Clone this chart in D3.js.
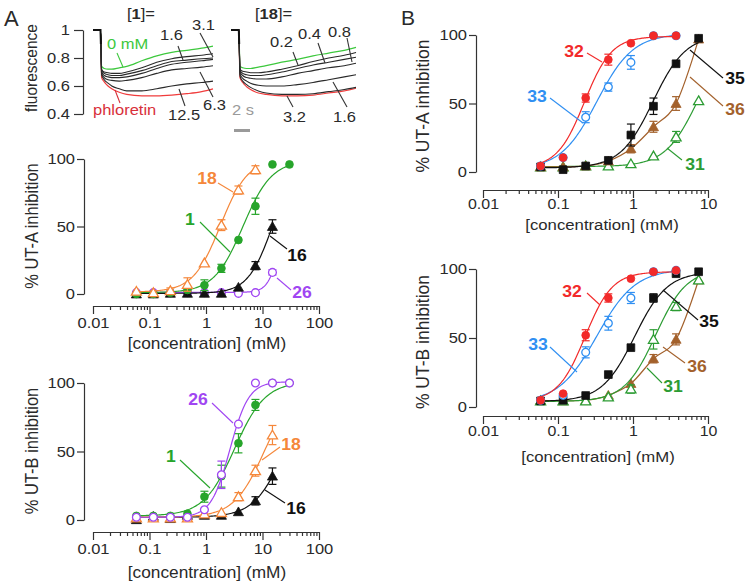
<!DOCTYPE html>
<html><head><meta charset="utf-8">
<script src="https://cdn.jsdelivr.net/npm/d3@7"></script>
<style>
body{margin:0;background:#fff}
svg{display:block}
text{font-family:"Liberation Sans", Arial, Helvetica, sans-serif}
</style>
</head><body>
<svg id="c" width="750" height="588"></svg>
<script>
// ---------------- DATA ----------------
// stopped-flow traces (time in s, relative fluorescence)
const traceT = [0, 1.0, 1.15, 1.5, 2, 2.5, 3.5, 4.5, 6.5, 8.5, 10.5, 12.5, 14.5, 16];
const traceL_0     = [1,1,0.74,0.725,0.72,0.72,0.73,0.74,0.78,0.815,0.84,0.855,0.87,0.885];
const traceL_a     = [1,1,0.72,0.70,0.695,0.69,0.69,0.70,0.73,0.77,0.795,0.81,0.82,0.83];
const traceL_b     = [1,1,0.71,0.69,0.68,0.675,0.675,0.685,0.71,0.745,0.775,0.785,0.795,0.80];
const traceL_c     = [1,1,0.70,0.675,0.665,0.66,0.66,0.665,0.69,0.725,0.755,0.77,0.78,0.79];
const traceL_d     = [1,1,0.69,0.66,0.645,0.64,0.635,0.64,0.66,0.69,0.715,0.725,0.735,0.745];
const traceL_e     = [1,1,0.68,0.645,0.62,0.60,0.58,0.565,0.565,0.58,0.60,0.615,0.625,0.635];
const traceL_phl   = [1,1,0.66,0.63,0.60,0.58,0.555,0.54,0.53,0.53,0.535,0.545,0.56,0.58];
const traceR_0     = [1,1,0.74,0.73,0.725,0.725,0.735,0.745,0.77,0.79,0.815,0.835,0.855,0.876];
const traceR_a     = [1,1,0.72,0.705,0.70,0.695,0.695,0.70,0.72,0.745,0.775,0.80,0.82,0.84];
const traceR_b     = [1,1,0.71,0.69,0.68,0.675,0.675,0.68,0.70,0.725,0.75,0.77,0.79,0.805];
const traceR_c     = [1,1,0.70,0.675,0.66,0.655,0.65,0.65,0.665,0.69,0.71,0.73,0.745,0.762];
const traceR_d     = [1,1,0.685,0.655,0.635,0.62,0.605,0.60,0.60,0.61,0.625,0.645,0.665,0.68];
const traceR_e     = [1,1,0.67,0.635,0.61,0.59,0.565,0.55,0.54,0.54,0.545,0.56,0.575,0.59];
const traceR_phl   = [1,1,0.66,0.625,0.595,0.575,0.55,0.54,0.53,0.53,0.535,0.55,0.565,0.584];
const traceTicks = [0.4, 0.6, 0.8, 1];

// concentrations (mM)
const concA = [0.0586, 0.117, 0.234, 0.469, 0.9375, 1.875, 3.75, 7.5, 15, 30];
const concB = [0.0586, 0.117, 0.234, 0.469, 0.9375, 1.875, 3.75, 7.5];

// Panel A, UT-A (% inhibition, SE)
const aA_1   = [0, 0, 1, 3, 6.5, 19, 40, 65, 96, 96];
const aA_1e  = [0, 0, 0, 0, 4, 3, 0, 6, 0, 0];
const aA_18  = [2, 1, 2.5, 7, 23, 51, 77, 92];
const aA_18e = [0, 0, 2, 5, 0, 4, 3, 3];
const aA_16  = [0, 0, 0.5, 0.5, 0.5, 0.5, 5, 21, 50];
const aA_16e = [0, 0, 0, 0, 0, 0, 0, 3, 5];
const aA_26  = [1, 1, 1, 1, 1, 1, 0.5, 1, 16];
const aA_26e = [0, 0, 0, 0, 0, 0, 0, 0, 2];
// Panel A, UT-B
const aB_1   = [3, 3, 3, 4.6, 17, 32, 56, 84, 100, 100];
const aB_1e  = [0, 0, 0, 0, 4, 8, 7, 4, 0, 0];
const aB_26  = [2, 2, 2, 2, 7.5, 33, 70, 100, 100, 100];
const aB_26e = [0, 0, 0, 0, 0, 10, 0, 0, 0, 0];
const aB_18  = [1.5, 1.5, 1.5, 1.5, 4.4, 5.4, 17, 36, 62];
const aB_18e = [0, 0, 0, 0, 0, 0, 3, 4, 7];
const aB_16  = [0.2, 2.7, 1, 3.4, 3.4, 3.4, 6, 14, 32];
const aB_16e = [0, 0, 0, 0, 0, 0, 0, 3, 6];
// Panel B, UT-A
const bA_32  = [4.4, 10.5, 54, 82, 94, 99.5, 99.5];
const bA_32e = [0, 0, 3, 4, 0, 0, 0];
const bA_33  = [4.4, 10.5, 40, 62, 80, 99.5, 99.5];
const bA_33e = [0, 0, 4, 3, 5, 0, 0];
const bA_35  = [3.7, 1.7, 4.4, 8.5, 27, 48, 79, 97.6];
const bA_35e = [0, 0, 0, 0, 8, 6, 0, 0];
const bA_36  = [3.7, 3.7, 4.4, 8, 17, 33, 50, 97];
const bA_36e = [0, 0, 0, 0, 3, 4, 5, 0];
const bA_31  = [3.7, 3.7, 4.4, 4.4, 6, 11.7, 25.6, 52];
const bA_31e = [0, 0, 0, 0, 0, 0, 4, 0];
// Panel B, UT-B
const bB_32  = [4.9, 9.7, 52, 79, 93, 98, 99];
const bB_32e = [0, 0, 4, 3, 0, 0, 0];
const bB_33  = [4.9, 8.5, 39.6, 60.7, 79, 98, 99];
const bB_33e = [0, 0, 4, 5, 4, 0, 0];
const bB_35  = [4.4, 4.9, 8.3, 23.5, 43, 79, 96.6, 98];
const bB_35e = [0, 0, 0, 0, 0, 3, 0, 0];
const bB_31  = [4.4, 4.4, 4.4, 7.3, 13, 49, 72.8, 92];
const bB_31e = [0, 0, 0, 0, 3, 7, 3, 0];
const bB_36  = [4.9, 4.4, 4.9, 8.5, 17, 35, 49, 92];
const bB_36e = [0, 0, 0, 0, 0, 3, 4, 0];

// fitted Hill parameters [bottom, top, IC50 (mM), n]; null -> smooth line through points
const fitA_1 = [1, 99, 4.5, 1.7],   fitA_18 = [1.5, 100, 1.8, 1.8], fitA_16 = [0.5, 100, 15, 2], fitA_26 = [1.2, 100, 23, 4];
const fitAB_1 = [3, 101, 3.2, 1.6], fitAB_26 = [2, 101, 2.65, 2.6], fitAB_18 = [2, 100, 11, 1.6], fitAB_16 = [2, 100, 25, 1.6];
const fitB_32 = [3, 99, 0.225, 2.4], fitB_33 = [2, 101, 0.33, 1.8], fitB_35 = [3, 100, 1.85, 2], fitB_31 = [4, 100, 7.3, 2];
const fitBB_32 = [4, 98, 0.23, 2.4], fitBB_33 = [3, 100, 0.33, 1.7], fitBB_35 = [4, 98, 1.05, 2], fitBB_31 = [4, 100, 2.0, 2.1];

const yTicks = [0, 50, 100];
const xTicksA = [0.01, 0.1, 1, 10, 100];
const xTicksB = [0.01, 0.1, 1, 10];

// ---------------- STYLE ----------------
const C = {
  green: "#27a52b", orange: "#f5873a", purple: "#a046f2", black: "#111111",
  red: "#f22a2a", blue: "#2f8ff2", brown: "#a3612c", green31: "#2c9c33",
  tgreen: "#3dc83d", tred: "#f03c3c", axis: "#333333", text: "#2a2a2a", gray: "#9a9a9a"
};
const FONT = '"Liberation Sans", Arial, sans-serif';
const SX = 1.1;

const svg = d3.select("#c");

function txt(g, x, y, s, o = {}) {
  const t = g.append("text")
    .attr("transform", `translate(${x},${y}) scale(${o.sx ?? SX},1)`)
    .attr("text-anchor", o.anchor || "start")
    .attr("font-size", o.size || 15)
    .attr("font-weight", o.weight || "normal")
    .attr("fill", o.fill || C.text);
  t.text(s);
  return t;
}
function vtxt(g, x, y, s, size) {
  g.append("text")
    .attr("transform", `translate(${x},${y}) rotate(-90) scale(1,${SX})`)
    .attr("text-anchor", "middle").attr("font-size", size).attr("fill", C.text).text(s);
}
function leader(g, x1, y1, x2, y2, col) {
  g.append("line").attr("x1", x1).attr("y1", y1).attr("x2", x2).attr("y2", y2)
    .attr("stroke", col).attr("stroke-width", 1.1);
}

// ---------------- TRACES ----------------
const ty = d3.scaleLinear().domain([0.4, 1]).range([114, 30]);
const txL = d3.scaleLinear().domain([0, 16]).range([93, 213]);
const txR = d3.scaleLinear().domain([0, 16]).range([231, 356]);

const gAx = svg.append("g").attr("transform", "translate(83,0)")
  .call(d3.axisLeft(ty).tickValues(traceTicks).tickSize(9).tickSizeOuter(0)
    .tickFormat(d => d === 1 ? "1" : d3.format(".1f")(d)));
gAx.selectAll("path,line").attr("stroke", C.axis).attr("stroke-width", 1.2);
gAx.selectAll("text").attr("font-size", 15).attr("font-family", FONT).attr("fill", C.text)
  .attr("x", -13 / SX).attr("transform", `scale(${SX},1)`);
vtxt(svg, 37, 68, "fluorescence", 15.5);

function drawTrace(xs, vals, col, w) {
  const line = d3.line().x((d, i) => xs(traceT[i])).y(d => ty(d)).curve(d3.curveMonotoneX);
  svg.append("path").datum(vals).attr("d", line).attr("fill", "none")
    .attr("stroke", col).attr("stroke-width", w || 1.2);
}
drawTrace(txL, traceL_0, C.tgreen);
drawTrace(txL, traceL_phl, C.tred);
[traceL_a, traceL_b, traceL_c, traceL_d, traceL_e].forEach(v => drawTrace(txL, v, "#2a2a2a", 1.1));
drawTrace(txR, traceR_0, C.tgreen);
drawTrace(txR, traceR_phl, C.tred);
[traceR_a, traceR_b, traceR_c, traceR_d, traceR_e].forEach(v => drawTrace(txR, v, "#2a2a2a", 1.1));
// starting baseline (thick black)
[[txL], [txR]].forEach(([xs]) => {
  svg.append("path").attr("d", d3.line()([[xs(0), ty(1)], [xs(1.0), ty(1)], [xs(1.05), ty(0.9)]]))
    .attr("fill", "none").attr("stroke", "#111").attr("stroke-width", 2);
});

// trace labels
const t1 = txt(svg, 127, 19, "", {size: 15});
t1.append("tspan").text("[");
t1.append("tspan").attr("font-weight", "bold").text("1");
t1.append("tspan").text("]=");
const t2 = txt(svg, 255, 19, "", {size: 15});
t2.append("tspan").text("[");
t2.append("tspan").attr("font-weight", "bold").text("18");
t2.append("tspan").text("]=");

const traceLabels = [
  ["0 mM", 107, 49, C.tgreen, 117, 53, 123, 67],
  ["1.6", 160, 40, C.text, 178, 46, 183, 60],
  ["3.1", 192, 30, C.text, 200, 33, 213, 57],
  ["6.3", 203, 110, C.text, 213, 97, 200, 72],
  ["12.5", 168, 120, C.text, 185, 106, 179, 89],
  ["phloretin", 93, 115, "#d8303a", 120, 103, 115, 90],
  ["0.2", 270, 47, C.text, 293, 52, 298, 65],
  ["0.4", 298, 39, C.text, 318, 43, 325, 63],
  ["0.8", 328, 37, C.text, 347, 38, 352, 62],
  ["3.2", 283, 122, C.text, 293, 107, 287, 96],
  ["1.6", 333, 122, C.text, 347, 107, 333, 82]
];
traceLabels.forEach(([s, x, y, col, x1, y1, x2, y2]) => {
  txt(svg, x, y, s, {size: 15, fill: col});
  leader(svg, x1, y1, x2, y2, col === C.text ? "#333" : col);
});
txt(svg, 232, 115, "2 s", {size: 15, fill: C.gray});
svg.append("rect").attr("x", 234).attr("y", 129).attr("width", 16).attr("height", 3).attr("fill", C.gray);

// panel letters
txt(svg, 4, 26, "A", {size: 22, sx: 1});
txt(svg, 401, 25, "B", {size: 21, sx: 1});

// ---------------- DOSE RESPONSE ----------------
function hill(p, c) { return p[0] + (p[1] - p[0]) / (1 + Math.pow(p[2] / c, p[3])); }

function panel(cfg) {
  const g = svg.append("g");
  const x = d3.scaleLog().domain(cfg.xDom).range(cfg.xRange);
  const y = d3.scaleLinear().domain([0, 100]).range(cfg.yRange);
  // y axis
  const ya = g.append("g").attr("transform", `translate(${cfg.yAxisX},0)`)
    .call(d3.axisLeft(y).tickValues(yTicks).tickSize(7).tickSizeOuter(0));
  ya.selectAll("text").attr("font-size", 15).attr("font-family", FONT).attr("fill", C.text)
    .attr("x", -9 / SX).attr("transform", `scale(${SX},1)`);
  // x axis with minor ticks
  const lo = Math.log10(cfg.xDom[0]), hi = Math.log10(cfg.xDom[1]);
  const all = [];
  for (let e = lo; e <= hi; e++) for (let m = 1; m <= 9; m++) { const v = m * Math.pow(10, e); if (v <= cfg.xDom[1] * 1.0001) all.push(v); }
  const xa = g.append("g").attr("transform", `translate(0,${cfg.xAxisY})`)
    .call(d3.axisBottom(x).tickValues(all).tickSize(4).tickSizeOuter(0)
      .tickFormat(d => cfg.xTicks.some(t => Math.abs(t - d) / t < 1e-6) ? String(d) : ""));
  xa.selectAll(".tick").filter(d => cfg.xTicks.some(t => Math.abs(t - d) / t < 1e-6))
    .select("line").attr("y2", 8);
  xa.selectAll("text").attr("font-size", cfg.tickSize || 15).attr("font-family", FONT).attr("fill", C.text)
    .attr("y", cfg.tickY || 11).attr("transform", `scale(${SX},1)`);
  g.selectAll(".domain, .tick line").attr("stroke", C.axis).attr("stroke-width", 1.2);
  // titles
  txt(g, cfg.xTitle[0], cfg.xTitle[1], "[concentration] (mM)", {size: cfg.xTitleSize || 16, anchor: "middle", sx: 1.08});
  vtxt(g, cfg.yTitle[0], cfg.yTitle[1], cfg.yTitle[2], cfg.yTitle[3]);

  // series
  cfg.series.forEach(s => {
    const pts = s.y.map((v, i) => ({c: s.x[i], v, e: s.e[i]}));
    let path;
    if (s.fit) {
      const l0 = Math.log10(s.x[0]), l1 = Math.log10(s.x[s.y.length - 1]);
      const samp = d3.range(0, 121).map(i => Math.pow(10, l0 + (l1 - l0) * i / 120));
      path = d3.line().x(c => x(c)).y(c => y(hill(s.fit, c)))(samp);
    } else {
      path = d3.line().x(d => x(d.c)).y(d => y(d.v)).curve(d3.curveMonotoneX)(pts);
    }
    g.append("path").attr("d", path).attr("fill", "none").attr("stroke", s.color).attr("stroke-width", 1.2);
    pts.filter(d => d.e > 0).forEach(d => {
      const px = x(d.c);
      g.append("line").attr("x1", px).attr("x2", px).attr("y1", y(d.v - d.e)).attr("y2", y(d.v + d.e))
        .attr("stroke", s.color).attr("stroke-width", 1.2);
      [d.v - d.e, d.v + d.e].forEach(v => g.append("line").attr("x1", px - 4).attr("x2", px + 4)
        .attr("y1", y(v)).attr("y2", y(v)).attr("stroke", s.color).attr("stroke-width", 1.2));
    });
    const type = {circle: d3.symbolCircle, triangle: d3.symbolTriangle, square: d3.symbolSquare}[s.shape];
    const size = {circle: 48, triangle: 44, square: 60}[s.shape];
    g.selectAll(null).data(pts).join("path")
      .attr("d", d3.symbol(type, size))
      .attr("transform", d => `translate(${x(d.c)},${y(d.v) + (s.shape === "triangle" ? 1 : 0)})`)
      .attr("fill", s.open ? "#fff" : s.color)
      .attr("stroke", s.color).attr("stroke-width", s.open ? 1.3 : 0.8);
  });
  cfg.labels.forEach(([s, col, tx, tyy, x1, y1, x2, y2]) => {
    txt(g, tx, tyy, s, {size: 16, weight: "bold", fill: col, anchor: "middle"});
    leader(g, x1, y1, x2, y2, col);
  });
}

// Panel A - UT-A
panel({
  xDom: [0.01, 100], xRange: [93, 319], yRange: [294, 159], yAxisX: 84, xAxisY: 306,
  xTicks: xTicksA, xTitle: [207, 349], yTitle: [38, 226, "% UT-A inhibition", 16.5],
  series: [
    {x: concA, y: aA_26, e: aA_26e, fit: fitA_26, color: C.purple, shape: "circle", open: true},
    {x: concA, y: aA_16, e: aA_16e, fit: fitA_16, color: C.black, shape: "triangle"},
    {x: concA, y: aA_1,  e: aA_1e,  fit: fitA_1,  color: C.green, shape: "circle"},
    {x: concA, y: aA_18, e: aA_18e, fit: fitA_18, color: C.orange, shape: "triangle", open: true}
  ],
  labels: [
    ["18", C.orange, 207, 184, 218, 183, 233, 192],
    ["1", C.green, 190, 225, 200, 222, 230, 252],
    ["16", C.black, 297, 261, 287, 249, 270, 236],
    ["26", C.purple, 302, 298, 291, 290, 277, 278]
  ]
});
// Panel A - UT-B
panel({
  xDom: [0.01, 100], xRange: [93, 319], yRange: [520, 383], yAxisX: 84, xAxisY: 532,
  xTicks: xTicksA, xTitle: [207, 578], yTitle: [38, 451, "% UT-B inhibition", 16.5],
  series: [
    {x: concA, y: aB_16, e: aB_16e, fit: fitAB_16, color: C.black, shape: "triangle"},
    {x: concA, y: aB_18, e: aB_18e, fit: fitAB_18, color: C.orange, shape: "triangle", open: true},
    {x: concA, y: aB_1,  e: aB_1e,  fit: fitAB_1,  color: C.green, shape: "circle"},
    {x: concA, y: aB_26, e: aB_26e, fit: fitAB_26, color: C.purple, shape: "circle", open: true}
  ],
  labels: [
    ["26", C.purple, 198, 405, 212, 403, 233, 423],
    ["1", C.green, 171, 462, 180, 460, 210, 488],
    ["18", C.orange, 291, 450, 280, 447, 262, 460],
    ["16", C.black, 296, 514, 285, 503, 265, 490]
  ]
});
// Panel B - UT-A
panel({
  xDom: [0.01, 10], xRange: [483, 708], yRange: [172, 35], yAxisX: 476, xAxisY: 190,
  xTicks: xTicksB, xTitle: [602, 230], xTitleSize: 15.5, tickY: 9, tickSize: 14.5,
  yTitle: [429, 106, "% UT-A inhibition", 17.5],
  series: [
    {x: concB, y: bA_31, e: bA_31e, fit: fitB_31, color: C.green31, shape: "triangle", open: true},
    {x: concB, y: bA_36, e: bA_36e, fit: null,    color: C.brown, shape: "triangle"},
    {x: concB, y: bA_35, e: bA_35e, fit: fitB_35, color: C.black, shape: "square"},
    {x: concB, y: bA_33, e: bA_33e, fit: fitB_33, color: C.blue, shape: "circle", open: true},
    {x: concB, y: bA_32, e: bA_32e, fit: fitB_32, color: C.red, shape: "circle"}
  ],
  labels: [
    ["32", C.red, 574, 57, 587, 53, 602, 62],
    ["33", C.blue, 537, 102, 550, 98, 583, 123],
    ["35", C.black, 735, 84, 723, 78, 690, 50],
    ["36", C.brown, 735, 115, 723, 106, 690, 77],
    ["31", C.green31, 695, 170, 682, 160, 667, 148]
  ]
});
// Panel B - UT-B
panel({
  xDom: [0.01, 10], xRange: [483, 708], yRange: [407, 269], yAxisX: 476, xAxisY: 416,
  xTicks: xTicksB, xTitle: [598, 462], xTitleSize: 15.5, tickY: 10, tickSize: 14.5,
  yTitle: [429, 342, "% UT-B inhibition", 17.5],
  series: [
    {x: concB, y: bB_36, e: bB_36e, fit: null,     color: C.brown, shape: "triangle"},
    {x: concB, y: bB_31, e: bB_31e, fit: fitBB_31, color: C.green31, shape: "triangle", open: true},
    {x: concB, y: bB_35, e: bB_35e, fit: fitBB_35, color: C.black, shape: "square"},
    {x: concB, y: bB_33, e: bB_33e, fit: fitBB_33, color: C.blue, shape: "circle", open: true},
    {x: concB, y: bB_32, e: bB_32e, fit: fitBB_32, color: C.red, shape: "circle"}
  ],
  labels: [
    ["32", C.red, 572, 297, 587, 293, 600, 305],
    ["33", C.blue, 538, 350, 550, 347, 577, 372],
    ["35", C.black, 709, 327, 698, 320, 663, 290],
    ["36", C.brown, 697, 372, 685, 363, 663, 347],
    ["31", C.green31, 673, 392, 662, 383, 647, 368]
  ]
});
</script>
</body></html>
